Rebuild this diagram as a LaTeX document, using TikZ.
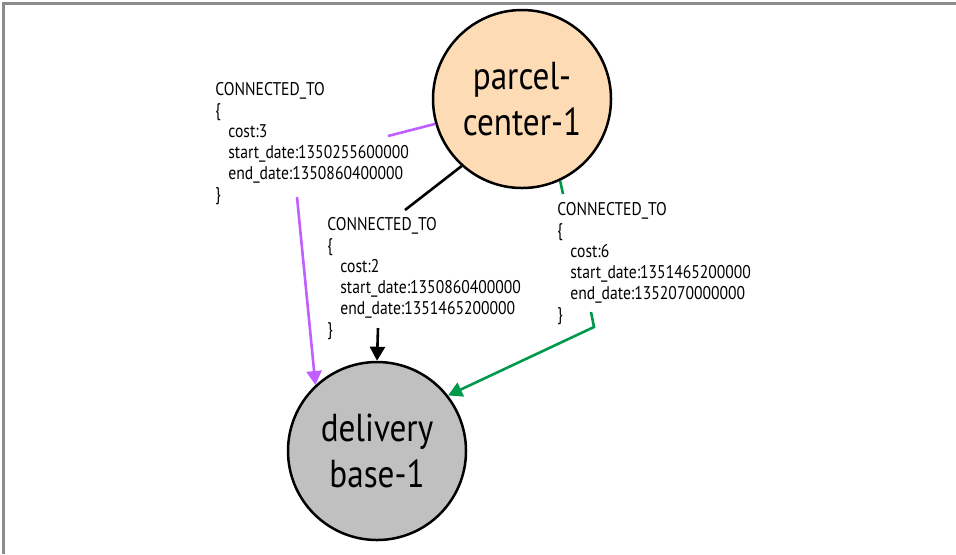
\documentclass[tikz,border=0pt]{standalone}
\usepackage{fontspec}
\usetikzlibrary{arrows.meta}
\newfontfamily\condfont[FakeStretch=0.85]{PT Sans}
\definecolor{peach}{HTML}{FDDCB5}
\definecolor{basegray}{HTML}{C0C0C0}
\definecolor{relviolet}{HTML}{BF5FFF}
\definecolor{relgreen}{HTML}{00994C}
\definecolor{framegray}{HTML}{8C8C8C}
\begin{document}
\begin{tikzpicture}[x=0.5pt, y=-0.5pt,
  place/.style={circle, draw, line width=1.25pt, minimum size=89pt, inner sep=0pt, align=center,
    font=\condfont\fontsize{19.5}{23}\selectfont},
  rel/.style={anchor=north west, inner sep=0pt, align=left,
    font=\condfont\fontsize{9.2}{10.5}\selectfont},
  flow/.style={line width=1.3pt},
  tip/.style={flow, -{Triangle[length=7pt, width=7.5pt]}}]
\useasboundingbox (0,0) rectangle (956,554);
\draw[framegray, line width=1.5pt] (956,3) -- (3,3) -- (3,554);
\node[place, fill=peach] (center) at (522,99) {parcel-\\center-1};
\node[place, fill=basegray] (base) at (377,451) {delivery\\base-1};
\node[rel] (rel3) at (215,82) {CONNECTED\_TO\\\{\\\hspace*{6.5pt}cost:3\\\hspace*{6.5pt}start\_date:1350255600000\\\hspace*{6.5pt}end\_date:1350860400000\\\}};
\node[rel] (rel2) at (327,217) {CONNECTED\_TO\\\{\\\hspace*{6.5pt}cost:2\\\hspace*{6.5pt}start\_date:1350860400000\\\hspace*{6.5pt}end\_date:1351465200000\\\}};
\node[rel] (rel6) at (557,202) {CONNECTED\_TO\\\{\\\hspace*{6.5pt}cost:6\\\hspace*{6.5pt}start\_date:1351465200000\\\hspace*{6.5pt}end\_date:1352070000000\\\}};
\coordinate (in3) at (388,136);
\coordinate (out3) at (297,197);
\coordinate (in2) at (405,210);
\coordinate (out2) at (378,328);
\coordinate (in6) at (563,194);
\coordinate (out6) at (591,312);
\coordinate (bend6) at (594,327);
\draw[flow, relviolet] (center.196) -- (in3);
\draw[tip, relviolet] (out3) -- (base.133);
\draw[flow] (center.228) -- (in2);
\draw[tip] (out2) -- (base.north);
\draw[flow, relgreen] (center.295) -- (in6);
\draw[tip, relgreen] (out6) -- (bend6) -- (base.38);
\end{tikzpicture}
\end{document}
